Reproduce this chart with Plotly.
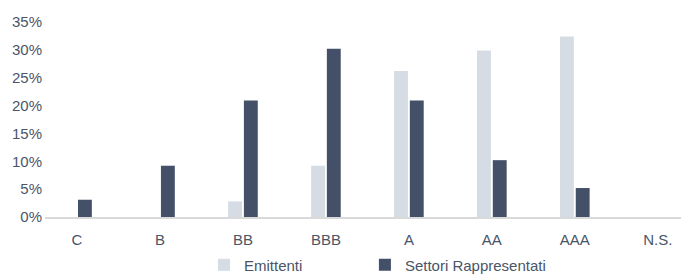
import plotly.graph_objects as go

categories = ["C", "B", "BB", "BBB", "A", "AA", "AAA", "N.S."]
emittenti = [0, 0, 2.8, 9.2, 26.2, 29.9, 32.4, 0]
settori = [3.1, 9.2, 20.9, 30.2, 20.9, 10.2, 5.2, 0]
y_ticks = [0, 5, 10, 15, 20, 25, 30, 35]
y_tick_labels = [f"{v}%" for v in y_ticks]

text_color = "#4a5568"

fig = go.Figure()
fig.add_trace(go.Bar(x=categories, y=emittenti, name="Emittenti", legend="legend",
                     marker=dict(color="#d5dce4", line=dict(width=0))))
fig.add_trace(go.Bar(x=categories, y=settori, name="Settori Rappresentati", legend="legend2",
                     marker=dict(color="#435068", line=dict(width=0))))

legend_common = dict(orientation="h", xanchor="left", yref="container", y=0.036,
                     yanchor="middle", font=dict(size=15, color=text_color),
                     bgcolor="rgba(0,0,0,0)")

fig.update_layout(
    width=681, height=275,
    margin=dict(l=45, r=0, t=22, b=58),
    paper_bgcolor="white", plot_bgcolor="white",
    barmode="group", bargap=0.62, bargroupgap=0.12,
    font=dict(family="Liberation Sans, Arial, sans-serif", size=15, color=text_color),
    showlegend=True,
    legend=dict(x=0.25, **legend_common),
    legend2=dict(x=0.503, **legend_common),
    xaxis=dict(range=[-0.386, 7.28], showgrid=False, showline=True,
               linecolor="#d9d9d9", linewidth=2, ticks="", zeroline=False,
               automargin=False, ticklabelstandoff=8,
               tickfont=dict(size=15, color=text_color)),
    yaxis=dict(range=[0, 35], tickvals=y_ticks, ticktext=y_tick_labels,
               showgrid=False, zeroline=False, showline=False, ticks="",
               automargin=False, ticklabelstandoff=2,
               tickfont=dict(size=15, color=text_color)),
)

fig.write_html("out.html", config={"displayModeBar": False},
               post_script="document.body.style.margin='0';document.body.style.overflow='hidden';")
